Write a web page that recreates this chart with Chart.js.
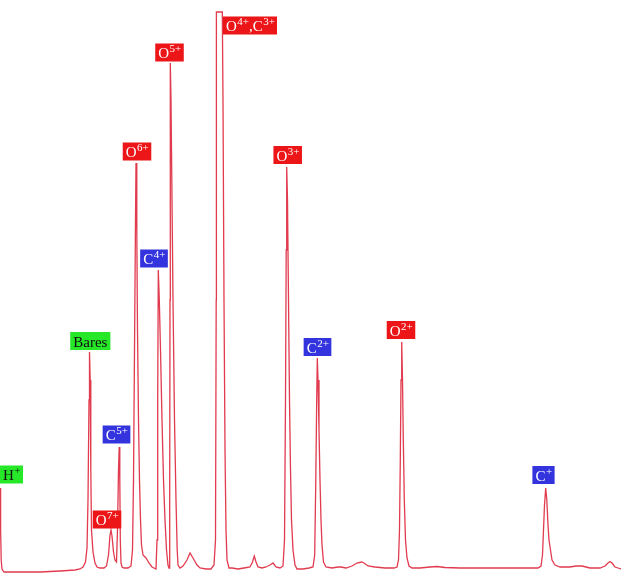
<!DOCTYPE html>
<html>
<head>
<meta charset="utf-8">
<script src="https://cdn.jsdelivr.net/npm/chart.js@4.4.1/dist/chart.umd.min.js"></script>
<style>
  html, body { margin: 0; padding: 0; background: #fff; }
  #wrap { width: 621px; height: 580px; }
</style>
</head>
<body>
<div id="wrap"><canvas id="spec"></canvas></div>
<script>
// Spectre de temps de vol (canal, intensité)
const channel = [0,0.6,1.2,2,4,20,40,60,75,80,83,85.5,87,88,89,89.5,90.2,90.8,91.5,93,95,97,100,104,106.5,108.5,110,111,112,113.5,115,116.5,117.5,118.5,119.2,119.8,120.3,121,122,124,128,131,132.5,133.5,134.5,135.5,136,136.8,137.5,138.5,139.5,140.5,141.5,143,146,149,152,156,157,157.7,158.3,159.3,160.5,162,163.5,165,166.5,168,169,169.7,170,170.3,171,172,173,174.5,176,177.2,178,180,183,187,190,193,197,200,206,211,214,215.5,216.2,216.4,222.3,223,224,225,226,227,229,232,238,244,250,252.5,254.3,256,258,262,266,270,273,276,280,283,284.5,285.5,286.2,286.7,287.5,288.5,289.5,290.5,291.5,293,295,297,303,309,313,314.7,315.8,316.7,317.3,318,319,320,321,322,323.5,326,332,338,341,346,352,357,361.7,364,368,375,385,394,397,398.5,399.5,400.3,401,401.7,402.5,403.3,404.3,405.5,407,409,412,420,430,437,445,460,480,500,520,538,541,542.5,543.5,544.5,545.7,546.8,548,549,550.5,552,555,560,570,576,582,590,600,605,608,610,612,615,618,621];
const intensity = [80,38,8,-1,-4,-4,-4,-3,-2,-1,1,6,20,68,168,216,188,98,38,16,5,1,0,0,2,13,33,38,32,16,8,6,38,98,121,88,28,5,1,0,0,2,18,88,218,348,405,338,238,148,88,48,23,13,10,5,1,-1,28,168,298,268,218,148,88,48,18,3,0,68,268,505,468,368,268,148,68,18,3,0,2,8,15,10,3,0,-1,-1,3,28,268,556,556,468,268,118,38,8,0,0,-1,0,1,6,12,6,1,0,1,3,5,1,0,2,28,168,318,401,368,268,168,98,48,18,3,-1,-1,0,1,13,88,168,210,188,138,88,48,23,6,1,0,1,1,0,2,5,6,5,2,1,0,0,1,8,38,108,188,226,188,128,68,28,10,2,0,0,1,1.5,0.5,0,0,0,0,0,2,13,38,63,80,68,43,28,18,8,3,1,1,2,2,0,0,2,5,6.5,5,1,0,-1];

// Étiquettes des pics : segments [texte, exposant], couleur de fond, centre (canal, intensité)
const peakLabels = [
  [[['H', '+']], 'green', 11, 93.5],
  [[['Bares', '']], 'green', 90.3, 227],
  [[['O', '7+']], 'red', 107, 48.5],
  [[['C', '5+']], 'blue', 116.5, 133.5],
  [[['O', '6+']], 'red', 137, 416.5],
  [[['C', '4+']], 'blue', 154, 309.5],
  [[['O', '5+']], 'red', 169.5, 515.5],
  [[['O', '4+'], [',C', '3+']], 'red', 250, 542.5],
  [[['O', '3+']], 'red', 287.7, 413],
  [[['C', '2+']], 'blue', 317.5, 221],
  [[['O', '2+']], 'red', 401, 238],
  [[['C', '+']], 'blue', 543.5, 93]
];

const boxColors = {
  red:   { bg: 'rgb(236,22,24)',  fg: '#fff' },
  blue:  { bg: 'rgb(52,52,222)',  fg: '#fff' },
  green: { bg: 'rgb(38,232,40)',  fg: '#111' }
};

const labelPlugin = {
  id: 'peakLabels',
  afterDatasetsDraw(chart){
    const ctx = chart.ctx;
    const xs = chart.scales.x, ys = chart.scales.y;
    const baseFont = '15px "Liberation Serif", "DejaVu Serif", serif';
    const supFont = '11px "Liberation Serif", "DejaVu Serif", serif';
    ctx.save();
    ctx.textBaseline = 'alphabetic';
    peakLabels.forEach(([segs, col, cx, cy]) => {
      // largeur du texte
      let w = 0;
      segs.forEach(([b, s]) => {
        ctx.font = baseFont; w += ctx.measureText(b).width;
        ctx.font = supFont; w += ctx.measureText(s).width;
      });
      const bw = w + 6, bh = 18;
      const px = xs.getPixelForValue(cx), py = ys.getPixelForValue(cy);
      const left = Math.max(0, px - bw / 2);
      ctx.fillStyle = boxColors[col].bg;
      ctx.fillRect(left, py - bh / 2, bw, bh);
      ctx.fillStyle = boxColors[col].fg;
      let tx = left + 3;
      const base = py + 5.5;
      segs.forEach(([b, s]) => {
        ctx.font = baseFont; ctx.fillText(b, tx, base); tx += ctx.measureText(b).width;
        ctx.font = supFont; ctx.fillText(s, tx + 0.5, base - 6); tx += ctx.measureText(s).width + 0.5;
      });
    });
    ctx.restore();
  }
};

new Chart(document.getElementById('spec'), {
  type: 'line',
  data: {
    datasets: [{
      data: channel.map((c, i) => ({ x: c, y: intensity[i] })),
      borderColor: 'rgba(222,38,60,0.9)',
      borderWidth: 1.3,
      pointRadius: 0,
      tension: 0,
      fill: false
    }]
  },
  options: {
    responsive: true,
    maintainAspectRatio: false,
    animation: false,
    layout: { padding: 0 },
    plugins: { legend: { display: false }, tooltip: { enabled: false } },
    scales: {
      x: { type: 'linear', min: 0, max: 621, display: false },
      y: { min: -12, max: 568, display: false }
    }
  },
  plugins: [labelPlugin]
});
</script>
</body>
</html>
